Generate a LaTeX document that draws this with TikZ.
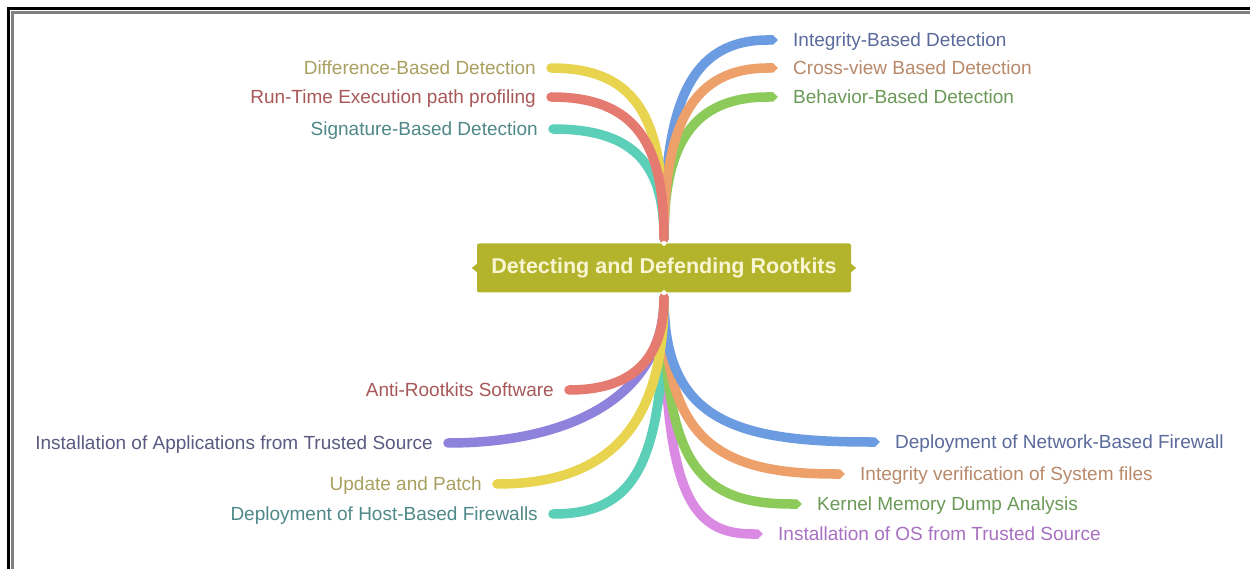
\documentclass[tikz,border=0pt]{standalone}
\usepackage{fontspec}
\setmainfont{Liberation Sans}
\usepackage{xcolor}
\usepackage{tikz}
\usetikzlibrary{arrows.meta}

\definecolor{rootFill}{HTML}{B4B42C}
\definecolor{rootText}{HTML}{F8F6D2}
\definecolor{brBlue}{HTML}{6B9BE0}
\definecolor{brOrange}{HTML}{EEA06A}
\definecolor{brGreen}{HTML}{8CCB5A}
\definecolor{brYellow}{HTML}{E8D44E}
\definecolor{brRed}{HTML}{E57A70}
\definecolor{brTeal}{HTML}{5CCFB8}
\definecolor{brPurple}{HTML}{8F82DC}
\definecolor{brPink}{HTML}{DA8AE2}
\definecolor{txBlue}{HTML}{5A6A9C}
\definecolor{txOrange}{HTML}{B8896A}
\definecolor{txGreen}{HTML}{6B9A58}
\definecolor{txYellow}{HTML}{A9A060}
\definecolor{txRed}{HTML}{A85858}
\definecolor{txTeal}{HTML}{4F8888}
\definecolor{txPurple}{HTML}{5A5A82}
\definecolor{txPink}{HTML}{A870C0}

\begin{document}
\begin{tikzpicture}[x=1pt, y=-1pt,
		leaf/.style={font=\fontsize{19}{22}\selectfont, inner xsep=15pt, inner ysep=0pt,
			text height=13.6pt, text depth=0pt},
		branch/.style={line width=9.5pt, line cap=round},
		tip/.style={-{Triangle Cap[length=5pt]}}]
		\useasboundingbox (0,0) rectangle (1250,569);
		\clip (0,0) rectangle (1250,569);
		\fill[white] (0,0) rectangle (1250,569);
		\draw[black, line width=3pt] (8.5,8.5) rectangle (1270,590);
		\draw[gray, line width=2.5pt] (12.5,12.5) rectangle (1270,590);

		\node[fill=rootFill, text=rootText, rounded corners=2pt, minimum width=374pt,
			minimum height=49pt, font=\fontsize{21.5}{24}\bfseries] (root) at (664,268)
			{Detecting and Defending Rootkits};
		\fill[rootFill] (root.west) ++(0,-4) -- ++(-5,4) -- ++(5,4) -- cycle;
		\fill[rootFill] (root.east) ++(0,-4) -- ++(5,4) -- ++(-5,4) -- cycle;

		% detection
		\node[leaf, anchor=east, text=txYellow] (dif) at (551,68) {Difference-Based Detection};
		\node[leaf, anchor=east, text=txRed] (run) at (551,97) {Run-Time Execution path profiling};
		\node[leaf, anchor=east, text=txTeal] (sig) at (553,129) {Signature-Based Detection};
		\node[leaf, anchor=west, text=txBlue] (intb) at (778,40) {Integrity-Based Detection};
		\node[leaf, anchor=west, text=txOrange] (cross) at (778,68) {Cross-view Based Detection};
		\node[leaf, anchor=west, text=txGreen] (behav) at (778,97) {Behavior-Based Detection};

		% defending
		\node[leaf, anchor=east, text=txRed] (anti) at (569,390) {Anti-Rootkits Software};
		\node[leaf, anchor=east, text=txPurple] (apps) at (448,443) {Installation of Applications from Trusted Source};
		\node[leaf, anchor=east, text=txYellow] (upd) at (497,484) {Update and Patch};
		\node[leaf, anchor=east, text=txTeal] (host) at (553,514) {Deployment of Host-Based Firewalls};
		\node[leaf, anchor=west, text=txBlue] (net) at (880,442) {Deployment of Network-Based Firewall};
		\node[leaf, anchor=west, text=txOrange] (integ) at (845,474) {Integrity verification of System files};
		\node[leaf, anchor=west, text=txGreen] (kern) at (802,504) {Kernel Memory Dump Analysis};
		\node[leaf, anchor=west, text=txPink] (os) at (763,534) {Installation of OS from Trusted Source};

		\begin{scope}[branch]
			\coordinate (up) at ([yshift=5pt]root.north);
			\coordinate (dn) at ([yshift=-5pt]root.south);
			\draw[brBlue, tip] (up) .. controls +(0,-140) and +(-85,0) .. (intb.west);
			\draw[brGreen, tip] (up) .. controls +(0,-95) and +(-85,0) .. (behav.west);
			\draw[brYellow] (up) .. controls +(0,-115) and +(90,0) .. (dif.east);
			\draw[brOrange, tip] (up) .. controls +(0,-115) and +(-85,0) .. (cross.west);
			\draw[brTeal] (up) .. controls +(0,-70) and +(85,0) .. (sig.east);
			\draw[brRed] (up) .. controls +(0,-95) and +(85,0) .. (run.east);

			\draw[brPink, tip] (dn) .. controls +(0,200) and +(-70,0) .. (os.west);
			\draw[brTeal] (dn) .. controls +(0,170) and +(80,0) .. (host.east);
			\draw[brGreen, tip] (dn) .. controls +(0,170) and +(-100,0) .. (kern.west);
			\draw[brOrange, tip] (dn) .. controls +(0,140) and +(-130,0) .. (integ.west);
			\draw[brPurple] (dn) .. controls +(0,100) and +(120,0) .. (apps.east);
			\draw[brBlue, tip] (dn) .. controls +(0,120) and +(-150,0) .. (net.west);
			\draw[brYellow] (dn) .. controls +(0,140) and +(100,0) .. (upd.east);
			\draw[brRed] (dn) .. controls +(0,65) and +(60,0) .. (anti.east);
		\end{scope}
		\fill[white] (root.north) circle (2.5);
		\fill[white] (root.south) circle (2.5);
	\end{tikzpicture}
\end{document}
